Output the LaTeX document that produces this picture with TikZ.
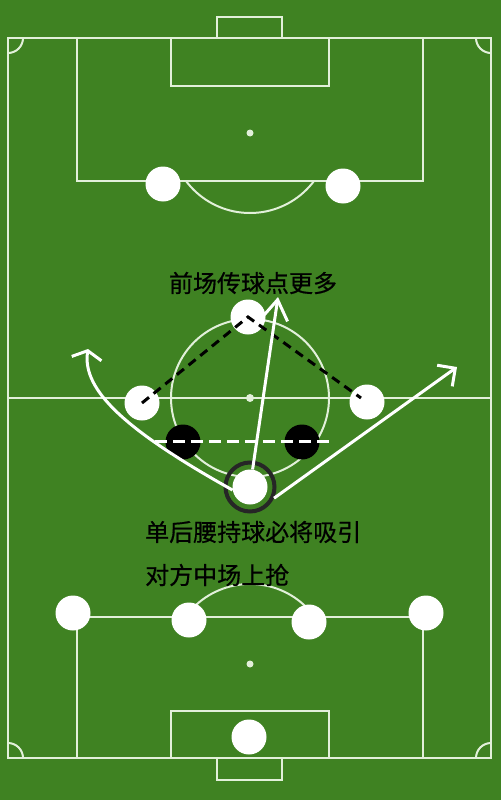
\documentclass[tikz,border=0pt]{standalone}
\usepackage{fontspec}
\newfontfamily\cjk[FakeBold=0.6]{Noto Sans CJK SC}
\usetikzlibrary{arrows.meta}
\definecolor{grass}{RGB}{63,130,34}
\definecolor{chalk}{RGB}{226,240,218}
\tikzset{pitchline/.style={draw=chalk, line width=2pt},
 player/.style={circle, fill=white, minimum size=35pt, inner sep=0pt},
 rival/.style={circle, fill=black, minimum size=35pt, inner sep=0pt},
 holdring/.style={circle, draw=black!85, line width=4pt, minimum size=49pt, inner sep=0pt},
 run/.style={draw=white, line width=3pt},
 cover/.style={draw=black, line width=3pt, dash pattern=on 9pt off 6pt},
 screen/.style={draw=white, line width=3pt, dash pattern=on 12pt off 6pt},
 note/.style={font=\cjk\fontsize{24}{28}\selectfont, text=black, inner sep=0pt},
 }

\begin{document}
\begin{tikzpicture}[x=1pt,y=-1pt]
        \fill[grass] (0,0) rectangle (501,800);
        \useasboundingbox (0,0) rectangle (501,800);
        % pitch markings
        \draw[pitchline] (8,38) rectangle (491,758);
        \draw[pitchline] (8,398) -- (491,398);
        \draw[pitchline] (250,398) circle (79);
        \fill[chalk] (250,398) circle (4);
        \begin{scope}
            \clip (8,38) rectangle (491,758);
            \foreach \cx/\cy in {8/38,491/38,8/758,491/758}
                \draw[pitchline] (\cx,\cy) circle (15);
        \end{scope}
        % top half
        \draw[pitchline] (217,38) -- (217,17) -- (282,17) -- (282,38);
        \draw[pitchline] (77,38) rectangle (423,181);
        \draw[pitchline] (171,38) rectangle (329,86);
        \fill[chalk] (250,133) circle (3.5);
        \begin{scope}
            \clip (0,181) rectangle (501,260);
            \draw[pitchline] (250,133) circle (80);
        \end{scope}
        % bottom half
        \draw[pitchline] (217,758) -- (217,780) -- (282,780) -- (282,758);
        \draw[pitchline] (77,617) rectangle (423,758);
        \draw[pitchline] (171,711) rectangle (329,758);
        \fill[chalk] (250,664) circle (3.5);
        \begin{scope}
            \clip (0,540) rectangle (501,617);
            \draw[pitchline] (250,664) circle (80);
        \end{scope}
        % players
        \node[player] (st1) at (163,184) {};
        \node[player] (st2) at (343,186) {};
        \node[player] (am) at (248,317) {};
        \node[player] (lw) at (142,403) {};
        \node[player] (rw) at (367,402) {};
        \node[rival] (cm1) at (183,442) {};
        \node[rival] (cm2) at (302,442) {};
        \node[holdring] (ring) at (250,487) {};
        \node[player] (dm) at (250,487) {};
        \node[player] (lb) at (73,613) {};
        \node[player] (cb1) at (189,620) {};
        \node[player] (cb2) at (309,622) {};
        \node[player] (rb) at (426,613) {};
        \node[player] (gk) at (249,737) {};
        % passing lanes
        \draw[cover] (lw.center) -- (am.center) -- ([shift={(-6,-4)}]rw.center);
        \coordinate (sl) at (155,441);
        \coordinate (sr) at (333,441);
        \draw[screen] (sl) -- (sr);
        % runs
        \coordinate (lt) at (88,349);
        \coordinate (rt) at (457,367);
        \coordinate (ut) at (278,297);
        \draw[run, -{Straight Barb[length=8pt,width=30pt]}]
            (dm.190) .. controls (125,430) and (82,390) .. (lt);
        \draw[run, -{Straight Barb[length=13pt,width=26pt]}] (ring.-25) -- (rt);
        \draw[run, -{Straight Barb[length=20pt,width=26pt]}] (dm) -- (ut);
        % notes
        \node[note] (t1) at (253,283) {前场传球点更多};
        \node[note, anchor=west] (t2) at (145,532) {单后腰持球必将吸引};
        \node[note, anchor=west] (t3) at (145,575) {对方中场上抢};
    \end{tikzpicture}
\end{document}
